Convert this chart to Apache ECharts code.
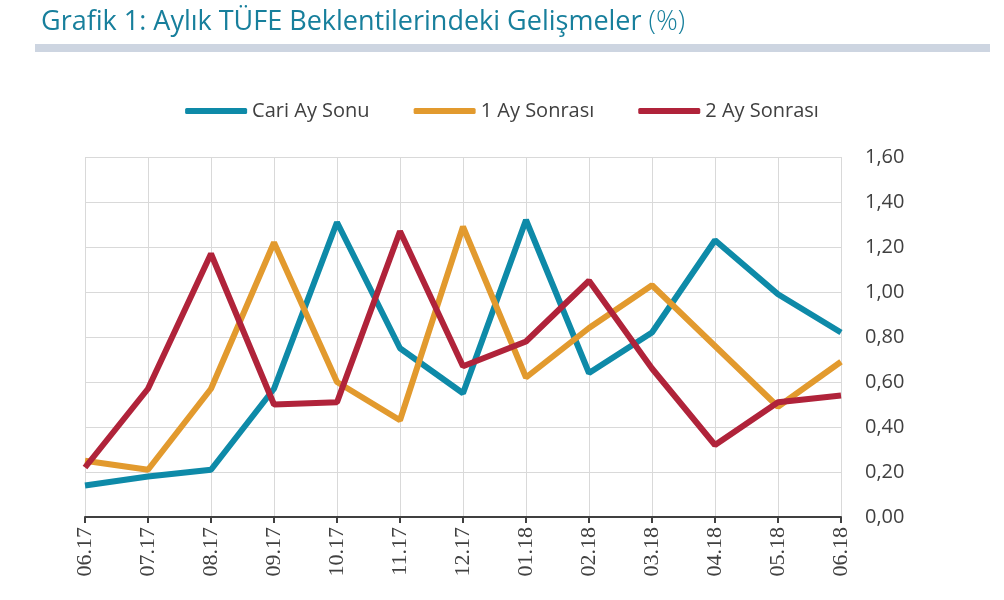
<!DOCTYPE html>
<html>
<head>
<meta charset="utf-8">
<script src="https://cdn.jsdelivr.net/npm/echarts@6/dist/echarts.min.js"></script>
<style>
  html, body { margin: 0; padding: 0; background: #fff; }
  #chart { width: 1004px; height: 600px; }
</style>
</head>
<body>
<div id="chart"></div>
<script>
var months = ['06.17','07.17','08.17','09.17','10.17','11.17','12.17','01.18','02.18','03.18','04.18','05.18','06.18'];
var cariAySonu = [0.14,0.18,0.21,0.57,1.31,0.75,0.55,1.32,0.64,0.82,1.23,0.99,0.82];
var birAySonrasi = [0.25,0.21,0.57,1.22,0.60,0.43,1.29,0.62,0.84,1.03,0.76,0.49,0.69];
var ikiAySonrasi = [0.22,0.57,1.17,0.50,0.51,1.27,0.67,0.78,1.05,0.66,0.32,0.51,0.54];

var colorList = ['#0E8AA8','#E29A2E','#B0233A'];
var seriesNames = ['Cari Ay Sonu','1 Ay Sonrası','2 Ay Sonrası'];

var chart = echarts.init(document.getElementById('chart'));

function lineSeries(name, data, color) {
    return {
        name: name,
        type: 'line',
        data: data,
        showSymbol: false,
        symbol: 'none',
        lineStyle: { color: color, width: 6 },
        itemStyle: { color: color }
    };
}

var option = {
    animation: false,
    textStyle: { fontFamily: '"Open Sans", sans-serif' },
    title: {
        text: 'Grafik 1: Aylık TÜFE Beklentilerindeki Gelişmeler {p|(%)}',
        left: 36,
        top: 4,
        textStyle: {
            color: '#177F9C',
            fontSize: 27,
            fontWeight: 'normal',
            fontFamily: '"Open Sans", sans-serif',
            rich: {
                p: { color: '#177F9C', fontSize: 27, fontWeight: 300, fontFamily: '"Open Sans", sans-serif' }
            }
        }
    },
    graphic: [{
        type: 'rect',
        left: 35,
        top: 44,
        shape: { width: 955, height: 8 },
        style: { fill: '#CDD5E1' }
    }],
    legend: {
        data: seriesNames,
        top: 96,
        left: 'center',
        icon: 'roundRect',
        itemWidth: 62,
        itemHeight: 6,
        itemGap: 44,
        textStyle: { color: '#404040', fontSize: 20, fontFamily: '"Open Sans", sans-serif' }
    },
    grid: { left: 85, right: 163, top: 157, bottom: 83 },
    xAxis: {
        type: 'category',
        data: months,
        boundaryGap: false,
        axisLine: { lineStyle: { color: '#404040', width: 2 } },
        axisTick: { show: true, length: 6, lineStyle: { color: '#404040', width: 2 } },
        splitLine: { show: true, lineStyle: { color: '#D9D9D9', width: 1 } },
        axisLabel: {
            rotate: 90,
            color: '#404040',
            fontSize: 22,
            margin: 10,
            fontFamily: '"Liberation Serif", serif'
        }
    },
    yAxis: {
        type: 'value',
        position: 'right',
        min: 0,
        max: 1.6,
        interval: 0.2,
        axisLine: { show: false },
        axisTick: { show: false },
        splitLine: { lineStyle: { color: '#D9D9D9', width: 1 } },
        axisLabel: {
            color: '#404040',
            fontSize: 20,
            margin: 24,
            formatter: function (v) { return v.toFixed(2).replace('.', ','); }
        }
    },
    series: [
        lineSeries(seriesNames[0], cariAySonu, colorList[0]),
        lineSeries(seriesNames[1], birAySonrasi, colorList[1]),
        lineSeries(seriesNames[2], ikiAySonrasi, colorList[2])
    ]
};

chart.setOption(option);
</script>
</body>
</html>
